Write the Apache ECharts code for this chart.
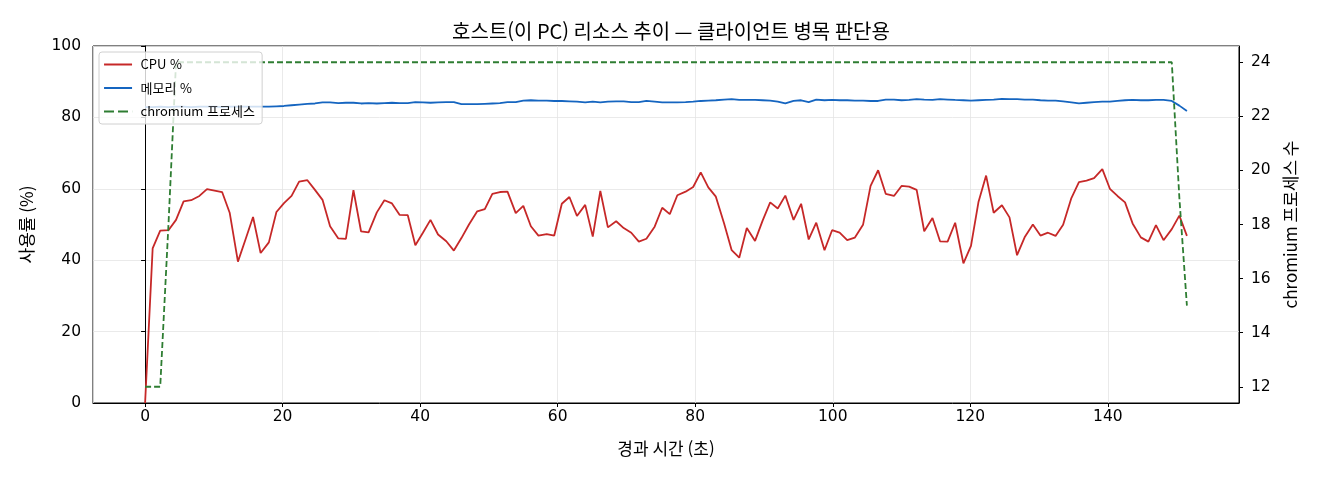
<!doctype html>
<html lang="ko">

<head>
    <meta charset="utf-8">
    <title>호스트 리소스 추이</title>
    <script src="https://cdn.jsdelivr.net/npm/echarts@6/dist/echarts.min.js"></script>
    <style>
        html, body { margin: 0; padding: 0; background: #fff; }
        #chart { width: 1320px; height: 480px; }
    </style>
</head>

<body>
    <div id="chart"></div>
    <script type="text/javascript">
        // elapsed seconds of each sample
        var times = [
            0.0, 1.1, 2.2, 3.4, 4.5, 5.6, 6.7, 7.9, 9.0, 10.1,
            11.2, 12.3, 13.5, 14.6, 15.7, 16.8, 18.0, 19.1, 20.2, 21.3,
            22.4, 23.6, 24.7, 25.8, 26.9, 28.1, 29.2, 30.3, 31.4, 32.5,
            33.7, 34.8, 35.9, 37.0, 38.2, 39.3, 40.4, 41.5, 42.6, 43.8,
            44.9, 46.0, 47.1, 48.3, 49.4, 50.5, 51.6, 52.7, 53.9, 55.0,
            56.1, 57.2, 58.4, 59.5, 60.6, 61.7, 62.8, 64.0, 65.1, 66.2,
            67.3, 68.5, 69.6, 70.7, 71.8, 72.9, 74.1, 75.2, 76.3, 77.4,
            78.6, 79.7, 80.8, 81.9, 83.0, 84.2, 85.3, 86.4, 87.5, 88.7,
            89.8, 90.9, 92.0, 93.1, 94.3, 95.4, 96.5, 97.6, 98.8, 99.9,
            101.0, 102.1, 103.2, 104.4, 105.5, 106.6, 107.7, 108.9, 110.0, 111.1,
            112.2, 113.3, 114.5, 115.6, 116.7, 117.8, 119.0, 120.1, 121.2, 122.3,
            123.4, 124.6, 125.7, 126.8, 127.9, 129.1, 130.2, 131.3, 132.4, 133.5,
            134.7, 135.8, 136.9, 138.0, 139.2, 140.3, 141.4, 142.5, 143.6, 144.8,
            145.9, 147.0, 148.1, 149.3, 150.4, 151.5
        ];
        var cpu = [
            0, 43.3, 48.3, 48.4, 51.3, 56.5, 56.8, 58.0, 59.9, 59.5,
            59.1, 53.3, 39.6, 45.8, 52.1, 42.0, 45.0, 53.5, 56.0, 58.0,
            62.0, 62.4, 59.7, 56.9, 49.5, 46.1, 46.0, 59.6, 48.1, 47.8,
            53.4, 56.8, 55.9, 52.7, 52.6, 44.2, 47.7, 51.3, 47.2, 45.3,
            42.7, 46.2, 50.0, 53.7, 54.3, 58.6, 59.1, 59.2, 53.2, 55.2,
            49.5, 46.9, 47.3, 46.9, 55.8, 57.7, 52.4, 55.5, 46.6, 59.4,
            49.2, 50.9, 49.0, 47.7, 45.2, 46.0, 49.4, 54.7, 52.9, 58.2,
            59.2, 60.5, 64.6, 60.4, 57.8, 50.3, 42.8, 40.7, 49.0, 45.4,
            51.1, 56.2, 54.5, 58.1, 51.3, 55.8, 45.8, 50.5, 42.8, 48.4,
            47.7, 45.6, 46.3, 49.9, 60.8, 65.2, 58.6, 58.0, 60.8, 60.6,
            59.7, 48.1, 51.8, 45.3, 45.2, 50.5, 39.1, 44.0, 56.4, 63.7,
            53.3, 55.4, 52.0, 41.4, 46.4, 50.0, 46.9, 47.7, 46.8, 49.9,
            57.4, 61.9, 62.3, 63.0, 65.5, 60.0, 58.0, 56.2, 50.3, 46.4,
            45.2, 49.8, 45.6, 48.7, 52.5, 46.8
        ];
        var mem = [
            82.9, 82.9, 83.0, 82.9, 83.0, 83.0, 82.9, 83.0, 83.0, 83.0,
            82.9, 83.0, 83.0, 83.0, 83.0, 83.0, 83.0, 83.1, 83.2, 83.4,
            83.6, 83.8, 83.9, 84.2, 84.2, 84.0, 84.1, 84.1, 83.9, 84.0,
            83.9, 84.0, 84.1, 84.0, 84.0, 84.3, 84.2, 84.1, 84.2, 84.3,
            84.3, 83.7, 83.7, 83.7, 83.8, 83.9, 84.0, 84.3, 84.3, 84.7,
            84.8, 84.7, 84.7, 84.6, 84.6, 84.5, 84.4, 84.2, 84.4, 84.2,
            84.4, 84.5, 84.5, 84.3, 84.3, 84.6, 84.4, 84.2, 84.2, 84.2,
            84.3, 84.4, 84.6, 84.7, 84.8, 85.0, 85.1, 84.9, 84.9, 84.9,
            84.8, 84.7, 84.4, 83.9, 84.6, 84.8, 84.3, 85.0, 84.8, 84.9,
            84.8, 84.8, 84.7, 84.7, 84.6, 84.6, 85.0, 85.0, 84.8, 84.9,
            85.1, 85.0, 84.9, 85.1, 85.0, 84.9, 84.8, 84.7, 84.8, 84.9,
            85.0, 85.2, 85.1, 85.1, 85.0, 85.0, 84.8, 84.7, 84.7, 84.5,
            84.2, 83.9, 84.1, 84.3, 84.4, 84.4, 84.6, 84.8, 84.9, 84.8,
            84.8, 84.9, 84.9, 84.6, 83.3, 81.8
        ];
        var procs = [
            12, 12, 12, 18, 24, 24, 24, 24, 24, 24,
            24, 24, 24, 24, 24, 24, 24, 24, 24, 24,
            24, 24, 24, 24, 24, 24, 24, 24, 24, 24,
            24, 24, 24, 24, 24, 24, 24, 24, 24, 24,
            24, 24, 24, 24, 24, 24, 24, 24, 24, 24,
            24, 24, 24, 24, 24, 24, 24, 24, 24, 24,
            24, 24, 24, 24, 24, 24, 24, 24, 24, 24,
            24, 24, 24, 24, 24, 24, 24, 24, 24, 24,
            24, 24, 24, 24, 24, 24, 24, 24, 24, 24,
            24, 24, 24, 24, 24, 24, 24, 24, 24, 24,
            24, 24, 24, 24, 24, 24, 24, 24, 24, 24,
            24, 24, 24, 24, 24, 24, 24, 24, 24, 24,
            24, 24, 24, 24, 24, 24, 24, 24, 24, 24,
            24, 24, 24, 24, 19, 15
        ];

        function pairs(values) {
            return times.map(function (t, i) { return [t, values[i]]; });
        }

        var font = '"Noto Sans CJK KR", "Noto Sans", sans-serif';
        var numFont = '"DejaVu Sans", sans-serif';
        var gridLine = { show: true, lineStyle: { color: '#e5e5e5', width: 0.8 } };
        var axisText = { color: '#000', fontSize: 15.5, fontFamily: numFont };
        var nameText = { fontSize: 17, color: '#000', fontFamily: font };
        // legend swatches: a solid stroke and a dashed stroke
        var solidIcon = 'path://M0,0h28v2h-28z';
        var dashIcon = 'path://M0,0h10v2h-10z M14,0h10v2h-10z M28,0h0.1v2h-0.1z';

        var chart = echarts.init(document.getElementById('chart'));
        var option = {
            animation: false,
            textStyle: { fontFamily: font },
            title: {
                text: '호스트(이 PC) 리소스 추이 — 클라이언트 병목 판단용',
                left: 666,
                textAlign: 'center',
                top: 16,
                textStyle: { fontSize: 20, fontWeight: 'normal', color: '#000', fontFamily: font }
            },
            grid: {
                left: 93, right: 81, top: 46, bottom: 77,
                show: true, borderColor: '#000', borderWidth: 1, backgroundColor: 'transparent'
            },
            legend: {
                orient: 'vertical',
                left: 99,
                top: 52,
                padding: [6, 8, 6, 5],
                itemWidth: 29,
                itemHeight: 2,
                itemGap: 10.5,
                backgroundColor: 'rgba(255,255,255,0.8)',
                borderColor: '#d0d0d0',
                borderWidth: 1,
                borderRadius: 3,
                textStyle: { fontSize: 13, color: '#000', fontFamily: font, padding: [0, 0, 0, 3] },
                data: [
                    { name: 'CPU %', icon: solidIcon },
                    { name: '메모리 %', icon: solidIcon },
                    { name: 'chromium 프로세스', icon: dashIcon }
                ]
            },
            xAxis: {
                type: 'value',
                min: -7.575,
                max: 159.075,
                splitNumber: 8,
                name: '경과 시간 (초)',
                nameLocation: 'middle',
                nameGap: 37,
                nameTextStyle: nameText,
                axisLine: { show: true, lineStyle: { color: '#000', width: 1 } },
                axisTick: { show: true, length: 4, lineStyle: { color: '#000' } },
                axisLabel: Object.assign({ showMinLabel: false, showMaxLabel: false, margin: 6 }, axisText),
                splitLine: gridLine
            },
            yAxis: [{
                type: 'value',
                min: 0,
                max: 100,
                interval: 20,
                name: '사용률 (%)',
                nameLocation: 'middle',
                nameRotate: 90,
                nameGap: 58,
                nameTextStyle: nameText,
                axisLine: { show: true, lineStyle: { color: '#000', width: 1 } },
                axisTick: { show: true, length: 4, lineStyle: { color: '#000' } },
                axisLabel: Object.assign({ margin: 12 }, axisText),
                splitLine: gridLine
            }, {
                type: 'value',
                position: 'right',
                min: 11.4,
                max: 24.6,
                splitNumber: 6,
                name: 'chromium 프로세스 수',
                nameLocation: 'middle',
                nameRotate: 90,
                nameGap: 43,
                nameTextStyle: nameText,
                axisLine: { show: true, lineStyle: { color: '#000', width: 1 } },
                axisTick: { show: true, length: 4, lineStyle: { color: '#000' } },
                axisLabel: Object.assign({ showMinLabel: false, showMaxLabel: false, margin: 12 }, axisText),
                splitLine: { show: false }
            }],
            series: [{
                name: 'CPU %',
                type: 'line',
                yAxisIndex: 0,
                symbol: 'none',
                color: '#c62828',
                lineStyle: { color: '#c62828', width: 1.8 },
                data: pairs(cpu)
            }, {
                name: '메모리 %',
                type: 'line',
                yAxisIndex: 0,
                symbol: 'none',
                color: '#1565c0',
                lineStyle: { color: '#1565c0', width: 1.8 },
                data: pairs(mem)
            }, {
                name: 'chromium 프로세스',
                type: 'line',
                yAxisIndex: 1,
                symbol: 'none',
                color: '#2e7d32',
                lineStyle: { color: '#2e7d32', width: 1.8, type: [6, 3] },
                data: pairs(procs)
            }]
        };
        chart.setOption(option);
    </script>
</body>

</html>
